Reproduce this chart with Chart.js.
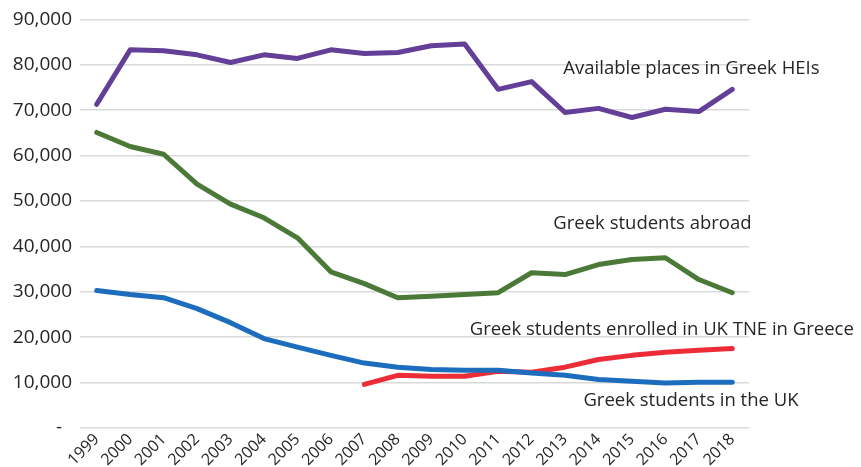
<!DOCTYPE html>
<html>
<head>
<meta charset="utf-8">
<script src="https://cdn.jsdelivr.net/npm/chart.js@4.4.1/dist/chart.umd.min.js"></script>
<style>
  html, body { margin: 0; padding: 0; background: #fff; }
  #wrap { width: 861px; height: 467px; position: relative; }
</style>
</head>
<body>
<div id="wrap"><canvas id="chart"></canvas></div>
<script>
// Years on the x axis
var years = ["1999","2000","2001","2002","2003","2004","2005","2006","2007","2008",
             "2009","2010","2011","2012","2013","2014","2015","2016","2017","2018"];

// Series
var availablePlaces = [71300, 83300, 83100, 82200, 80500, 82200, 81400, 83300, 82500, 82700,
                       84200, 84600, 74600, 76300, 69500, 70400, 68400, 70200, 69700, 74600];
var studentsAbroad = [65100, 62000, 60300, 53700, 49300, 46300, 41900, 34400, 31800, 28700,
                      29000, 29400, 29800, 34200, 33800, 36000, 37100, 37500, 32700, 29800];
var studentsInUK = [30300, 29400, 28700, 26300, 23200, 19700, 17800, 16000, 14300, 13400,
                    12900, 12700, 12700, 12100, 11600, 10700, 10300, 9900, 10100, 10100];
var ukTNE = [null, null, null, null, null, null, null, null, 9600, 11600,
             11400, 11400, 12500, 12300, 13400, 15100, 16000, 16700, 17100, 17500];

// y tick values
var yMax = 90000;
var yStep = 10000;

var textFont = "'Open Sans', sans-serif";
var textColor = "#262626";

// Series labels written inside the plot (category index, value, text)
var seriesLabels = [
  { x: 13.95, y: 79200, text: "Available places in Greek HEIs" },
  { x: 13.65, y: 45000, text: "Greek students abroad" },
  { x: 11.15, y: 21600, text: "Greek students enrolled in UK TNE in Greece" },
  { x: 14.55, y: 5900, text: "Greek students in the UK" }
];

const ctx = document.getElementById("chart");

var myChart = new Chart(ctx, {
  type: "line",
  data: {
    labels: years,
    datasets: [
      { label: "Available places in Greek HEIs", data: availablePlaces, borderColor: "#633f98" },
      { label: "Greek students abroad", data: studentsAbroad, borderColor: "#4b7a38" },
      { label: "Greek students in the UK", data: studentsInUK, borderColor: "#1c6dbd" },
      { label: "Greek students enrolled in UK TNE in Greece", data: ukTNE, borderColor: "#ec2d37" }
    ]
  },
  options: {
    responsive: true,
    maintainAspectRatio: false,
    animation: false,
    devicePixelRatio: 1,
    layout: {
      padding: { top: 7, right: 112, bottom: 0, left: 0 }
    },
    elements: {
      line: { borderWidth: 5, tension: 0, borderCapStyle: "round", borderJoinStyle: "round" },
      point: { radius: 0 }
    },
    plugins: {
      legend: { display: false },
      tooltip: { enabled: false }
    },
    scales: {
      x: {
        offset: true,
        afterFit: function (scale) {
          scale.height = 39;
        },
        grid: { display: false, drawTicks: false },
        border: { display: false },
        ticks: {
          maxRotation: 45,
          minRotation: 45,
          autoSkip: false,
          padding: 2,
          font: { family: textFont, size: 16 },
          color: textColor
        }
      },
      y: {
        min: 0,
        max: yMax,
        afterFit: function (scale) {
          scale.width = 80;
        },
        ticks: {
          stepSize: yStep,
          padding: 8,
          font: { family: textFont, size: 19 },
          color: textColor,
          callback: function (value) {
            if (value === 0) return "-  ";
            return value.toLocaleString("en-US");
          }
        },
        grid: { color: "#d9d9d9", lineWidth: 1.5, drawTicks: false },
        border: { display: false }
      }
    }
  },
  plugins: [
    {
      id: "seriesLabels",
      afterDatasetsDraw: (chart) => {
        const { ctx, scales: { x, y } } = chart;
        ctx.save();
        ctx.font = "18.5px " + textFont;
        ctx.fillStyle = textColor;
        ctx.textAlign = "left";
        ctx.textBaseline = "middle";
        seriesLabels.forEach(function (l) {
          ctx.fillText(l.text, x.getPixelForValue(l.x), y.getPixelForValue(l.y));
        });
        ctx.restore();
      }
    }
  ]
});
</script>
</body>
</html>
